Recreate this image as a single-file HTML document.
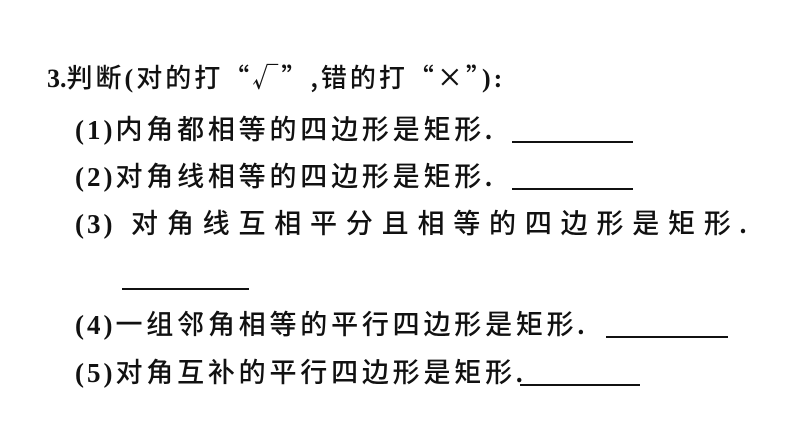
<!DOCTYPE html>
<html><head><meta charset="utf-8"><style>
body{margin:0;width:794px;height:447px;background:#fff;position:relative;overflow:hidden;font-family:"Liberation Serif","Noto Sans CJK SC",sans-serif;color:#111}
.l{position:absolute;font-size:27px;line-height:30px;white-space:nowrap;letter-spacing:3.8px}
.c{font-family:"Noto Sans CJK SC",sans-serif;font-weight:500}
b{font-family:"Liberation Serif",serif;font-weight:bold;letter-spacing:3px}
.p{font-family:"Liberation Serif",serif;font-weight:bold;letter-spacing:0}
.u{position:absolute;height:1.5px;background:#111}
</style></head><body>
<div class="l" style="left:47px;top:62px;letter-spacing:3px;font-size:26px"><b style="letter-spacing:0">3.</b><span class="c">判断</span><b>(</b><span class="c">对的打“√”,错的打“×”</span><b>):</b></div>
<div class="l" style="left:75px;top:113px"><b>(1)</b><span class="c">内角都相等的四边形是矩形</span><span class="p">.</span></div>
<div class="u" style="left:512px;top:141px;width:121px"></div>
<div class="l" style="left:75px;top:160px"><b>(2)</b><span class="c">对角线相等的四边形是矩形</span><span class="p">.</span></div>
<div class="u" style="left:512px;top:188px;width:121px"></div>
<div class="l" style="left:75px;top:207px;letter-spacing:8.8px"><b>(3)</b> <span class="c">对角线互相平分且相等的四边形是矩形</span><span class="p">.</span></div>
<div class="u" style="left:122px;top:288px;width:127px"></div>
<div class="l" style="left:75px;top:308px"><b>(4)</b><span class="c">一组邻角相等的平行四边形是矩形</span><span class="p">.</span></div>
<div class="u" style="left:606px;top:336px;width:122px"></div>
<div class="l" style="left:75px;top:356px"><b>(5)</b><span class="c">对角互补的平行四边形是矩形</span><span class="p">.</span></div>
<div class="u" style="left:520px;top:384px;width:120px"></div>
</body></html>
